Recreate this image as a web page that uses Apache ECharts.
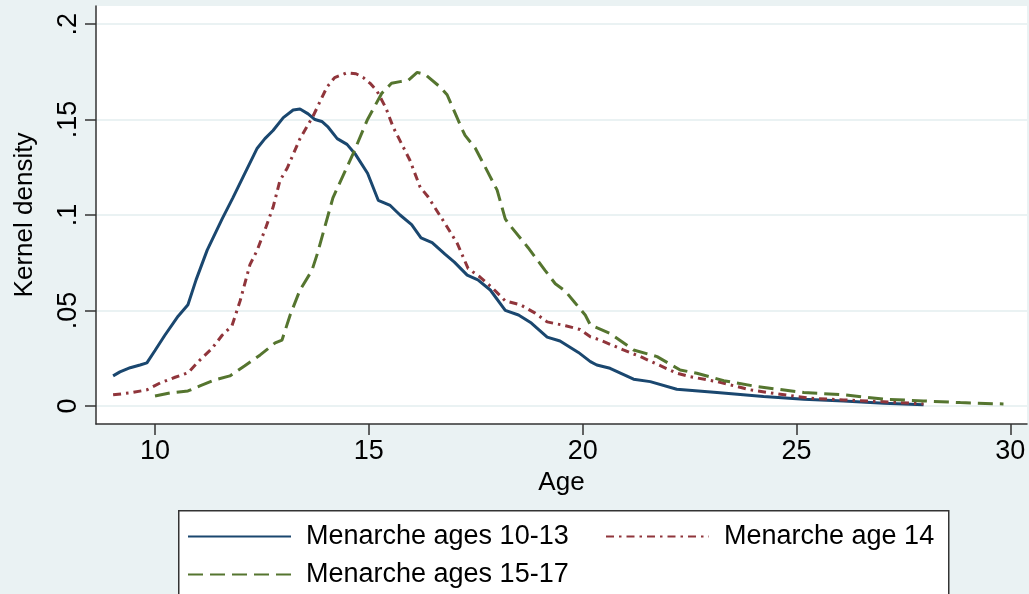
<!DOCTYPE html>
<html>
<head>
<meta charset="utf-8">
<script src="https://cdn.jsdelivr.net/npm/echarts@6/dist/echarts.min.js"></script>
<style>
html,body{margin:0;padding:0;background:#EAF2F3;}
#chart{width:1029px;height:594px;}
</style>
</head>
<body>
<div id="chart"></div>
<script>
const seriesNames = ['Menarche ages 10-13', 'Menarche age 14', 'Menarche ages 15-17'];

const ageA = [9.02,9.18,9.42,9.65,9.81,10.0,10.23,10.54,10.77,10.96,11.22,11.57,11.82,12.06,12.39,12.57,12.76,13.0,13.23,13.39,13.58,13.74,13.9,14.05,14.26,14.49,14.68,14.97,15.22,15.5,15.73,16.0,16.22,16.48,16.78,17.0,17.3,17.55,17.84,18.19,18.5,18.8,19.17,19.47,19.9,20.18,20.33,20.64,21.19,21.58,22.2,23.14,24.23,25.17,26.1,27.04,27.97];
const densA = [0.0157,0.0178,0.0200,0.0214,0.0225,0.0290,0.0370,0.0470,0.0530,0.0660,0.0816,0.0980,0.1090,0.1200,0.1350,0.1400,0.1443,0.1510,0.1550,0.1555,0.1530,0.1500,0.1490,0.1460,0.1400,0.1370,0.1320,0.1219,0.1077,0.1050,0.1000,0.0950,0.0880,0.0855,0.0795,0.0753,0.0685,0.0660,0.0607,0.0500,0.0476,0.0434,0.0360,0.0340,0.0280,0.0232,0.0214,0.0197,0.0140,0.0127,0.0087,0.0070,0.0049,0.0035,0.0026,0.0014,0.0006];

const ageB = [9.02,9.42,9.81,10.12,10.47,10.77,11.05,11.33,11.57,11.8,11.99,12.22,12.39,12.6,12.76,12.92,13.09,13.39,13.7,14.02,14.2,14.49,14.7,14.87,15.03,15.19,15.4,15.57,15.96,16.2,16.37,16.74,17.07,17.32,17.6,17.88,18.19,18.54,18.89,19.17,19.6,19.94,20.18,20.41,20.95,21.35,22.2,22.51,23.14,23.92,24.54,25.32,26.1,27.04,27.97];
const densB = [0.0058,0.0068,0.0084,0.0120,0.0150,0.0173,0.0240,0.0300,0.0370,0.0420,0.0550,0.0740,0.0816,0.0940,0.1040,0.1180,0.1245,0.1400,0.1520,0.1670,0.1720,0.1745,0.1740,0.1720,0.1690,0.1650,0.1560,0.1460,0.1287,0.1145,0.1100,0.0970,0.0850,0.0720,0.0675,0.0620,0.0550,0.0530,0.0486,0.0440,0.0420,0.0400,0.0362,0.0345,0.0293,0.0258,0.0171,0.0153,0.0127,0.0084,0.0063,0.0040,0.0031,0.0022,0.0010];

const ageC = [10.0,10.35,10.77,11.05,11.4,11.75,12.1,12.46,12.81,12.97,13.16,13.39,13.67,13.8,14.16,14.63,14.96,15.3,15.53,15.76,15.92,16.13,16.32,16.67,16.83,17.18,17.25,17.49,17.77,18.0,18.19,18.26,18.72,19.12,19.36,19.6,19.82,20.06,20.18,20.64,21.19,21.74,22.28,22.67,23.3,24.08,25.17,26.1,27.04,27.97,28.83,29.84];
const densC = [0.0052,0.0068,0.0078,0.0105,0.0136,0.0157,0.0210,0.0267,0.0330,0.0345,0.0476,0.0607,0.0710,0.0800,0.1090,0.1320,0.1496,0.1637,0.1690,0.1700,0.1705,0.1747,0.1736,0.1670,0.1630,0.1450,0.1417,0.1350,0.1230,0.1130,0.0980,0.0957,0.0830,0.0710,0.0640,0.0600,0.0540,0.0476,0.0424,0.0380,0.0293,0.0258,0.0188,0.0171,0.0132,0.0101,0.0070,0.0058,0.0035,0.0026,0.0017,0.0010];

const xTicks = [10, 15, 20, 25, 30];
const yTicks = [0, 0.05, 0.1, 0.15, 0.2];
const yTickLabels = ['0', '.05', '.1', '.15', '.2'];
const xTitle = 'Age';
const yTitle = 'Kernel density';

function pairs(xs, ys) { return xs.map((x, i) => [x, ys[i]]); }

const FONT = '"Liberation Sans", Arial, sans-serif';
const AXIS_COLOR = '#333333';
const GRID_COLOR = '#EAF2F3';
const colors = ['#1A476F', '#90353B', '#55752F'];

const chart = echarts.init(document.getElementById('chart'), null, {renderer: 'canvas'});

const option = {
  backgroundColor: '#EAF2F3',
  animation: false,
  textStyle: {fontFamily: FONT, color: '#000'},
  grid: {
    left: 96, right: 2, top: 6, bottom: 170,
    show: true, backgroundColor: '#FFFFFF', borderWidth: 0,
    containLabel: false, outerBoundsMode: 'none'
  },
  xAxis: {
    type: 'value', min: 8.62, max: 30.39,
    name: xTitle, nameLocation: 'middle', nameGap: 46,
    nameTextStyle: {fontSize: 26, fontFamily: FONT, color: '#000'},
    axisLine: {show: true, onZero: false, lineStyle: {color: AXIS_COLOR, width: 1.5}},
    axisTick: {show: true, length: 11, lineStyle: {color: AXIS_COLOR, width: 1.5}, customValues: xTicks},
    axisLabel: {fontSize: 27, fontFamily: FONT, color: '#000', margin: 14, customValues: xTicks},
    splitLine: {show: false}
  },
  yAxis: {
    type: 'value', min: -0.0095, max: 0.2095,
    name: yTitle, nameLocation: 'middle', nameGap: 58, nameRotate: 90,
    nameTextStyle: {fontSize: 26, fontFamily: FONT, color: '#000'},
    axisLine: {show: true, onZero: false, lineStyle: {color: AXIS_COLOR, width: 1.5}},
    axisTick: {show: true, length: 11, lineStyle: {color: AXIS_COLOR, width: 1.5}, customValues: yTicks},
    axisLabel: {
      fontSize: 27, fontFamily: FONT, color: '#000', margin: 14, rotate: 90,
      customValues: yTicks,
      formatter: function (v) {
        const i = yTicks.findIndex(t => Math.abs(t - v) < 1e-9);
        return i >= 0 ? yTickLabels[i] : '';
      }
    },
    splitLine: {show: false}
  },
  legend: [
    {data: [seriesNames[0]], left: 187, top: 523},
    {data: [seriesNames[1]], left: 605, top: 523},
    {data: [seriesNames[2]], left: 187, top: 561}
  ].map(l => Object.assign(l, {
    orient: 'horizontal', padding: 0, itemWidth: 103, itemHeight: 26, itemGap: 0,
    selectedMode: false,
    itemStyle: {opacity: 0},
    textStyle: {fontSize: 27, fontFamily: FONT, color: '#000', padding: [0, 0, 0, 10]}
  })),
  graphic: [{
    type: 'rect', left: 178, top: 510, z: -1,
    shape: {width: 770, height: 120},
    style: {fill: '#FFFFFF', stroke: '#333333', lineWidth: 1.5}
  }],
  series: [
    {
      name: seriesNames[0], type: 'line', data: pairs(ageA, densA),
      symbol: 'none', smooth: false, color: colors[0],
      lineStyle: {color: colors[0], width: 3, type: 'solid'},
      markLine: {
        silent: true, symbol: 'none', label: {show: false}, z: 0,
        lineStyle: {color: GRID_COLOR, width: 2, type: 'solid'},
        data: yTicks.map(v => ({yAxis: v}))
      },
      z: 3
    },
    {
      name: seriesNames[1], type: 'line', data: pairs(ageB, densB),
      symbol: 'none', smooth: false, color: colors[1],
      lineStyle: {color: colors[1], width: 3, type: [8, 5, 2.5, 5]},
      z: 3
    },
    {
      name: seriesNames[2], type: 'line', data: pairs(ageC, densC),
      symbol: 'none', smooth: false, color: colors[2],
      lineStyle: {color: colors[2], width: 3, type: [15, 7]},
      z: 3
    }
  ]
};
chart.setOption(option);
</script>
</body>
</html>
